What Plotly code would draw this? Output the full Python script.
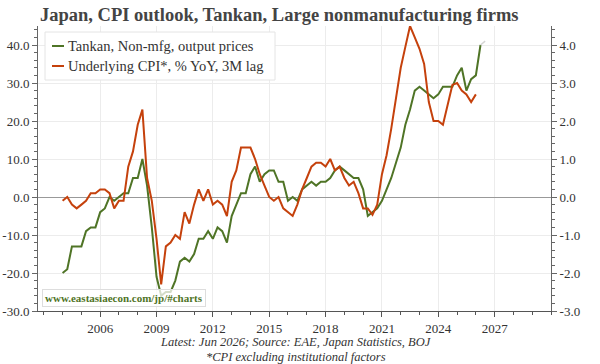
import pandas as pd
import plotly.graph_objects as go

# ---------------- data ----------------
tankan_start = "2004-01-01"
tankan_nonmfg = [
    -20, -19, -13, -13,
    -13, -9, -8, -8,
    -4, -3, 0, -1,
    0, 1, 1, 5,
    5, 10, 3, -8,
    -21, -26, -25, -25,
    -22, -17, -16, -17,
    -15, -11, -11, -9,
    -11, -8, -9, -12,
    -5, -2, 1, 1,
    6, 8, 4, 6,
    7, 7, 4, 4,
    -1, 0, -1, 2,
    3, 4, 3, 4,
    4, 5, 7, 8,
    7, 6, 5, 5,
    2, -5, -4, -3,
    -1, 2, 5, 9,
    13, 19, 23, 28,
    29, 28, 27, 26,
    27, 29, 29, 29,
    32, 34, 28, 31,
    32, 40,
]
tankan_forecast_value = 41

cpi_start = "2004-01-01"
cpi_underlying = [
    -0.1, 0.0, -0.2, -0.3,
    -0.2, -0.1, 0.1, 0.1,
    0.2, 0.2, 0.1, -0.3,
    -0.1, -0.1, 0.8, 1.2,
    1.9, 2.3, 0.5, -0.1,
    -1.1, -2.3, -1.3, -1.2,
    -1.0, -1.1, -0.4, -0.7,
    -0.2, 0.2, -0.1, 0.2,
    -0.2, -0.1, -0.2, -0.5,
    0.4, 0.7, 1.3, 1.3,
    1.3, 1.0, 0.6, 0.3,
    0.0, -0.1, 0.0, -0.3,
    -0.4, -0.5, -0.2, 0.2,
    0.5, 0.8, 0.9, 0.9,
    0.8, 1.0, 0.7, 0.8,
    0.5, 0.3, 0.4, 0.1,
    -0.3, -0.3, -0.47, -0.2,
    0.6, 1.1, 1.8, 2.6,
    3.4, 3.95, 4.5, 4.2,
    3.9, 3.5, 2.5, 2.0,
    2.0, 1.9, 2.4, 2.95,
    3.0, 2.8, 2.7, 2.5,
    2.7,
]

x_tick_years = [2006, 2009, 2012, 2015, 2018, 2021, 2024, 2027]
left_ticks = [-30, -20, -10, 0, 10, 20, 30, 40]
right_ticks = [-3, -2, -1, 0, 1, 2, 3, 4]

title_text = "Japan, CPI outlook, Tankan, Large nonmanufacturing firms"
name_tankan = "Tankan, Non-mfg, output prices"
name_cpi = "Underlying CPI*, % YoY, 3M lag"
note1 = "Latest: Jun 2026; Source: EAE, Japan Statistics, BOJ"
note2 = "*CPI excluding institutional factors"
watermark = "www.eastasiaecon.com/jp/#charts"

# ---------------- build ----------------
GREEN = "#4f7426"
RED = "#c5410c"
SERIF = "Liberation Serif"

# plot-area pixel geometry helpers (for placing legend / notes)
ML, MR, MT, MB, W, H = 38, 49, 26, 53, 600, 364
PW, PH = W - ML - MR, H - MT - MB
def px(xp):
    return (xp - ML) / PW
def py(yp):
    return (H - MB - yp) / PH

tankan_dates = pd.date_range(tankan_start, periods=len(tankan_nonmfg), freq="QS")
cpi_dates = pd.date_range(cpi_start, periods=len(cpi_underlying), freq="QS")
fc_dates = [tankan_dates[-1], tankan_dates[-1] + pd.DateOffset(months=3)]

def fmt(v):
    return f"{v:.1f}"

fig = go.Figure()
fig.add_trace(go.Scatter(x=tankan_dates, y=tankan_nonmfg, mode="lines", name=name_tankan,
                         line=dict(color=GREEN, width=2), showlegend=False))
fig.add_trace(go.Scatter(x=fc_dates, y=[tankan_nonmfg[-1], tankan_forecast_value], mode="lines",
                         line=dict(color="#d4d4d4", width=1.5), showlegend=False, hoverinfo="skip"))
fig.add_trace(go.Scatter(x=cpi_dates, y=cpi_underlying, mode="lines", name=name_cpi, yaxis="y2",
                         line=dict(color=RED, width=2), showlegend=False))

tickfont = dict(family=SERIF, size=13, color="#333")
fig.update_layout(
    width=W, height=H,
    margin=dict(l=ML, r=MR, t=MT, b=MB, autoexpand=False),
    paper_bgcolor="white", plot_bgcolor="white",
    showlegend=False,
    title=dict(text="<b>" + title_text + "</b>", x=40 / W, xanchor="left",
               y=1 - 15 / H, yanchor="middle", yref="container", automargin=False,
               font=dict(family=SERIF, size=18.5, color="#444")),
    xaxis=dict(type="date", range=["2002-09-10", "2030-01-01"], automargin=False,
               tickvals=[f"{y}-01-01" for y in x_tick_years],
               ticktext=[str(y) for y in x_tick_years],
               showgrid=True, gridcolor="#ececec", gridwidth=1,
               showline=True, linecolor="#555", linewidth=1,
               ticks="outside", ticklen=5, tickcolor="#555",
               minor=dict(dtick="M12", tick0="2003-01-01", ticks="outside", ticklen=3,
                          tickcolor="#555", showgrid=False),
               tickfont=tickfont, zeroline=False),
    yaxis=dict(range=[-30, 45], automargin=False,
               tickvals=left_ticks, ticktext=[fmt(v) for v in left_ticks],
               showgrid=True, gridcolor="#ececec", gridwidth=1,
               zeroline=True, zerolinecolor="#999", zerolinewidth=1,
               showline=True, linecolor="#666", linewidth=1,
               ticks="outside", ticklen=5, tickcolor="#666",
               minor=dict(dtick=2, ticks="outside", ticklen=3, tickcolor="#666", showgrid=False),
               tickfont=tickfont),
    yaxis2=dict(range=[-3, 4.5], overlaying="y", side="right", automargin=False,
                tickvals=right_ticks, ticktext=[fmt(v) for v in right_ticks],
                showgrid=False, zeroline=False,
                showline=True, linecolor="#666", linewidth=1,
                ticks="outside", ticklen=5, tickcolor="#666",
                minor=dict(dtick=0.2, ticks="outside", ticklen=3, tickcolor="#666", showgrid=False),
                tickfont=tickfont),
)

# legend box drawn as shapes + text
fig.add_shape(type="rect", xref="paper", yref="paper", x0=px(45), x1=px(275), y0=py(80), y1=py(32),
              line=dict(color="#e4e4e4", width=1), fillcolor="white", layer="above")
for ypix, col, label in [(46, GREEN, name_tankan), (66, RED, name_cpi)]:
    fig.add_shape(type="line", xref="paper", yref="paper", x0=px(52), x1=px(64), y0=py(ypix), y1=py(ypix),
                  line=dict(color=col, width=2), layer="above")
    fig.add_annotation(text=label, xref="paper", yref="paper", x=px(66), y=py(ypix),
                       xanchor="left", yanchor="middle", showarrow=False,
                       font=dict(family=SERIF, size=14.5, color="#333"))

fig.add_annotation(text="<b>" + watermark + "</b>", xref="paper", yref="paper", x=px(42), y=py(307),
                   xanchor="left", yanchor="bottom", showarrow=False,
                   font=dict(family=SERIF, size=11, color="#4f7426"),
                   bgcolor="rgba(255,255,255,0.75)", bordercolor="#dddddd", borderwidth=1, borderpad=2)
fig.add_annotation(text="<i>" + note1 + "</i>", xref="paper", yref="paper", x=px(296), y=py(342),
                   xanchor="center", yanchor="middle", showarrow=False,
                   font=dict(family=SERIF, size=12.5, color="#333"))
fig.add_annotation(text="<i>" + note2 + "</i>", xref="paper", yref="paper", x=px(296), y=py(357),
                   xanchor="center", yanchor="middle", showarrow=False,
                   font=dict(family=SERIF, size=12.5, color="#333"))

fig.write_html("out.html")
